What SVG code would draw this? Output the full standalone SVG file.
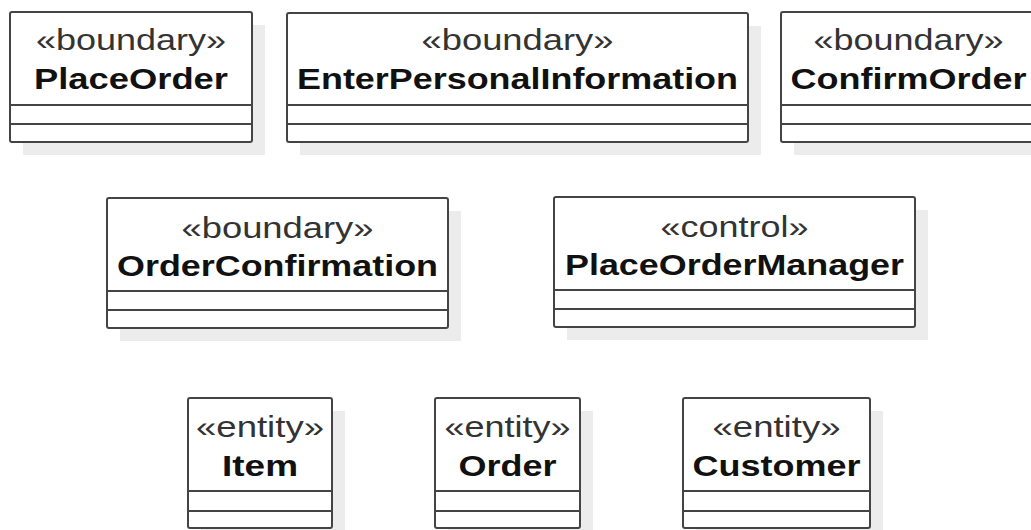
<svg xmlns="http://www.w3.org/2000/svg" width="1031" height="530" viewBox="0 0 1031 530">
<style>
.sh{fill:#ececec;stroke:none}
.bx{fill:#fff;stroke:#444;stroke-width:2}
.ln{stroke:#444;stroke-width:2}
.st{font-family:"Liberation Sans",Arial,sans-serif;font-size:29px;fill:#333;text-anchor:middle}
.nm{font-family:"Liberation Sans",Arial,sans-serif;font-size:29px;font-weight:bold;fill:#111;text-anchor:middle}
</style>
<rect width="1031" height="530" fill="#fff"/>
<g id="PlaceOrder">
<rect class="sh" x="23" y="25" width="242" height="130"/>
<rect class="bx" x="10" y="12" width="242" height="130" rx="2"/>
<line class="ln" x1="10" y1="105" x2="252" y2="105"/><line class="ln" x1="10" y1="124" x2="252" y2="124"/>
<text class="st" x="131" y="50" textLength="190" lengthAdjust="spacingAndGlyphs">«boundary»</text>
<text class="nm" x="131" y="89" textLength="194" lengthAdjust="spacingAndGlyphs">PlaceOrder</text>
</g>
<g id="EnterPersonalInformation">
<rect class="sh" x="300" y="26" width="461" height="129"/>
<rect class="bx" x="287" y="13" width="461" height="129" rx="2"/>
<line class="ln" x1="287" y1="105" x2="748" y2="105"/><line class="ln" x1="287" y1="124" x2="748" y2="124"/>
<text class="st" x="517.5" y="50" textLength="192" lengthAdjust="spacingAndGlyphs">«boundary»</text>
<text class="nm" x="517.5" y="89" textLength="441" lengthAdjust="spacingAndGlyphs">EnterPersonalInformation</text>
</g>
<g id="ConfirmOrder">
<rect class="sh" x="794" y="25" width="254" height="130"/>
<rect class="bx" x="781" y="12" width="254" height="130" rx="2"/>
<line class="ln" x1="781" y1="105" x2="1035" y2="105"/><line class="ln" x1="781" y1="124" x2="1035" y2="124"/>
<text class="st" x="908.5" y="50" textLength="190" lengthAdjust="spacingAndGlyphs">«boundary»</text>
<text class="nm" x="908.5" y="89" textLength="236" lengthAdjust="spacingAndGlyphs">ConfirmOrder</text>
</g>
<g id="OrderConfirmation">
<rect class="sh" x="120" y="211" width="341" height="130"/>
<rect class="bx" x="107" y="198" width="341" height="130" rx="2"/>
<line class="ln" x1="107" y1="291" x2="448" y2="291"/><line class="ln" x1="107" y1="310" x2="448" y2="310"/>
<text class="st" x="277.5" y="238" textLength="192" lengthAdjust="spacingAndGlyphs">«boundary»</text>
<text class="nm" x="277.5" y="276" textLength="321" lengthAdjust="spacingAndGlyphs">OrderConfirmation</text>
</g>
<g id="PlaceOrderManager">
<rect class="sh" x="567" y="210" width="361" height="130"/>
<rect class="bx" x="554" y="197" width="361" height="130" rx="2"/>
<line class="ln" x1="554" y1="290" x2="915" y2="290"/><line class="ln" x1="554" y1="309" x2="915" y2="309"/>
<text class="st" x="734.5" y="237" textLength="148" lengthAdjust="spacingAndGlyphs">«control»</text>
<text class="nm" x="734.5" y="275" textLength="339" lengthAdjust="spacingAndGlyphs">PlaceOrderManager</text>
</g>
<g id="Item">
<rect class="sh" x="201" y="411" width="144" height="130"/>
<rect class="bx" x="188" y="398" width="144" height="130" rx="2"/>
<line class="ln" x1="188" y1="491" x2="332" y2="491"/><line class="ln" x1="188" y1="511" x2="332" y2="511"/>
<text class="st" x="260" y="437" textLength="128" lengthAdjust="spacingAndGlyphs">«entity»</text>
<text class="nm" x="260" y="476" textLength="76" lengthAdjust="spacingAndGlyphs">Item</text>
</g>
<g id="Order">
<rect class="sh" x="448" y="411" width="145" height="130"/>
<rect class="bx" x="435" y="398" width="145" height="130" rx="2"/>
<line class="ln" x1="435" y1="491" x2="580" y2="491"/><line class="ln" x1="435" y1="511" x2="580" y2="511"/>
<text class="st" x="507.5" y="437" textLength="126" lengthAdjust="spacingAndGlyphs">«entity»</text>
<text class="nm" x="507.5" y="476" textLength="98" lengthAdjust="spacingAndGlyphs">Order</text>
</g>
<g id="Customer">
<rect class="sh" x="696" y="411" width="187" height="130"/>
<rect class="bx" x="683" y="398" width="187" height="130" rx="2"/>
<line class="ln" x1="683" y1="491" x2="870" y2="491"/><line class="ln" x1="683" y1="511" x2="870" y2="511"/>
<text class="st" x="776.5" y="437" textLength="128" lengthAdjust="spacingAndGlyphs">«entity»</text>
<text class="nm" x="776.5" y="476" textLength="168" lengthAdjust="spacingAndGlyphs">Customer</text>
</g>
<g id="connectors"></g>
</svg>
